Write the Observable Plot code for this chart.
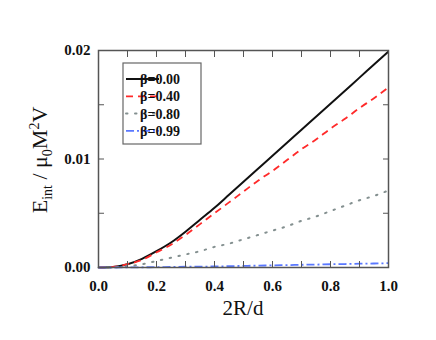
<!DOCTYPE html>
<html><head><meta charset="utf-8">
<script src="https://cdn.jsdelivr.net/npm/d3@7"></script>
<script src="https://cdn.jsdelivr.net/npm/@observablehq/plot@0.6"></script>
<style>body{margin:0;background:#fff;} #chart{position:relative;width:436px;height:340px;}
svg text{font-family:'Liberation Serif','Times New Roman',serif !important;}
</style>
</head><body><div id="chart"></div>
<script>
const xs = [0,0.05,0.1,0.15,0.2,0.25,0.3,0.35,0.4,0.45,0.5,0.55,0.6,0.65,0.7,0.75,0.8,0.85,0.9,0.95,1.0];
const beta000 = [0,0.00005,0.0003,0.0008,0.0015,0.0023,0.0033,0.0044,0.0055,0.0067,0.0079,0.0091,0.0103,0.0115,0.0127,0.0139,0.0151,0.0163,0.0175,0.0187,0.0199];
const beta040 = [0,0.00005,0.0003,0.0007,0.0014,0.0021,0.0030,0.0040,0.0050,0.0060,0.0070,0.0080,0.0089,0.0099,0.0109,0.0118,0.0128,0.0137,0.0147,0.0156,0.0166];
const beta080 = [0,0.00002,0.0001,0.0003,0.0006,0.0009,0.0012,0.0015,0.0019,0.0022,0.0026,0.0030,0.0034,0.0038,0.0043,0.0047,0.0052,0.0057,0.0062,0.0066,0.0071];
const beta099 = [0,0,0.00001,0.00002,0.00003,0.00005,0.00007,0.00008,0.0001,0.00012,0.00015,0.00017,0.0002,0.00022,0.00025,0.00027,0.0003,0.00032,0.00035,0.00037,0.0004];
const seriesNames = ["β=0.00","β=0.40","β=0.80","β=0.99"];
const seriesColors = ["#111111","#ff2a2a","#849090","#5a78ff"];
const seriesDash = [null,"7,5","1.5,7.5","8,3,2,3"];
const xMajor = [0,0.2,0.4,0.6,0.8,1.0];
const xMinor = [0,0.1,0.2,0.3,0.4,0.5,0.6,0.7,0.8,0.9,1.0];
const yMajor = [0,0.01,0.02];
const yMinor = [0,0.005,0.01,0.015,0.02];

const allSeries = [beta000,beta040,beta080,beta099];
const data = [];
allSeries.forEach((vals,si)=>vals.forEach((v,i)=>data.push({x:xs[i],y:v,s:si})));

const font = "'Liberation Serif','Times New Roman',serif";
const marks = [];
allSeries.forEach((vals,si)=>{
  marks.push(Plot.line(data.filter(d=>d.s===si),{x:"x",y:"y",stroke:seriesColors[si],strokeWidth:si===0?2:(si===2?2:1.8),strokeDasharray:seriesDash[si],strokeLinecap:si===2?"round":"butt",curve:"monotone-x"}));
});
marks.push(
  Plot.axisX(xMajor,{anchor:"bottom",tickSize:0,tickPadding:13,tickFormat:d3.format(".1f"),fontSize:15,fontWeight:"bold",label:null}),
  Plot.axisX(xMinor,{anchor:"bottom",tickSize:-6,text:null,stroke:"#555",label:null}),
  Plot.axisX(xMinor,{anchor:"top",tickSize:-6,text:null,stroke:"#555",label:null}),
  Plot.axisY(yMajor,{anchor:"left",tickSize:0,tickPadding:8,tickFormat:d3.format(".2f"),fontSize:15,fontWeight:"bold",label:null}),
  Plot.axisY(yMinor,{anchor:"left",tickSize:-6,text:null,stroke:"#555",label:null}),
  Plot.axisY(yMinor,{anchor:"right",tickSize:-6,text:null,stroke:"#555",label:null}),
  Plot.frame({stroke:"#555",strokeWidth:1.5})
);

const plot = Plot.plot({
  width:436,height:340,
  marginLeft:98,marginRight:48,marginTop:50,marginBottom:73,
  style:{fontFamily:font,color:"#111",background:"#fff"},
  x:{domain:[0,1]},
  y:{domain:[0,0.02]},
  marks
});
document.getElementById("chart").appendChild(plot);

const svg = d3.select(plot);
// x label
svg.append("text").attr("x",243).attr("y",315).attr("text-anchor","middle")
  .attr("font-size",21).attr("fill","#111").text("2R/d");
// y label
const yl = svg.append("text").attr("transform","translate(47,160) rotate(-90)")
  .attr("text-anchor","middle").attr("font-size",22).attr("fill","#111");
yl.append("tspan").text("E");
yl.append("tspan").attr("font-size",14).attr("dy",5).text("int");
yl.append("tspan").attr("dy",-5).text(" / μ");
yl.append("tspan").attr("font-size",14).attr("dy",5).text("0");
yl.append("tspan").attr("dy",-5).text("M");
yl.append("tspan").attr("font-size",14).attr("dy",-8).text("2");
yl.append("tspan").attr("dy",8).text("V");

// legend
const lg = svg.append("g");
lg.append("rect").attr("x",123).attr("y",63).attr("width",78).attr("height",81)
  .attr("fill","#fff").attr("stroke","#666").attr("stroke-width",1.2);
seriesNames.forEach((name,i)=>{
  const yy = 79 + i*17.3;
  lg.append("line").attr("x1",126).attr("x2",159).attr("y1",yy).attr("y2",yy)
    .attr("stroke",seriesColors[i]).attr("stroke-width",i===0?2:(i===2?2:1.8))
    .attr("stroke-dasharray",seriesDash[i]).attr("stroke-linecap",i===2?"round":"butt");
  lg.append("text").attr("x",160).attr("y",yy).attr("dy","0.35em")
    .attr("font-size",14).attr("font-weight","bold").attr("fill","#111").text(name);
});
</script></body></html>
